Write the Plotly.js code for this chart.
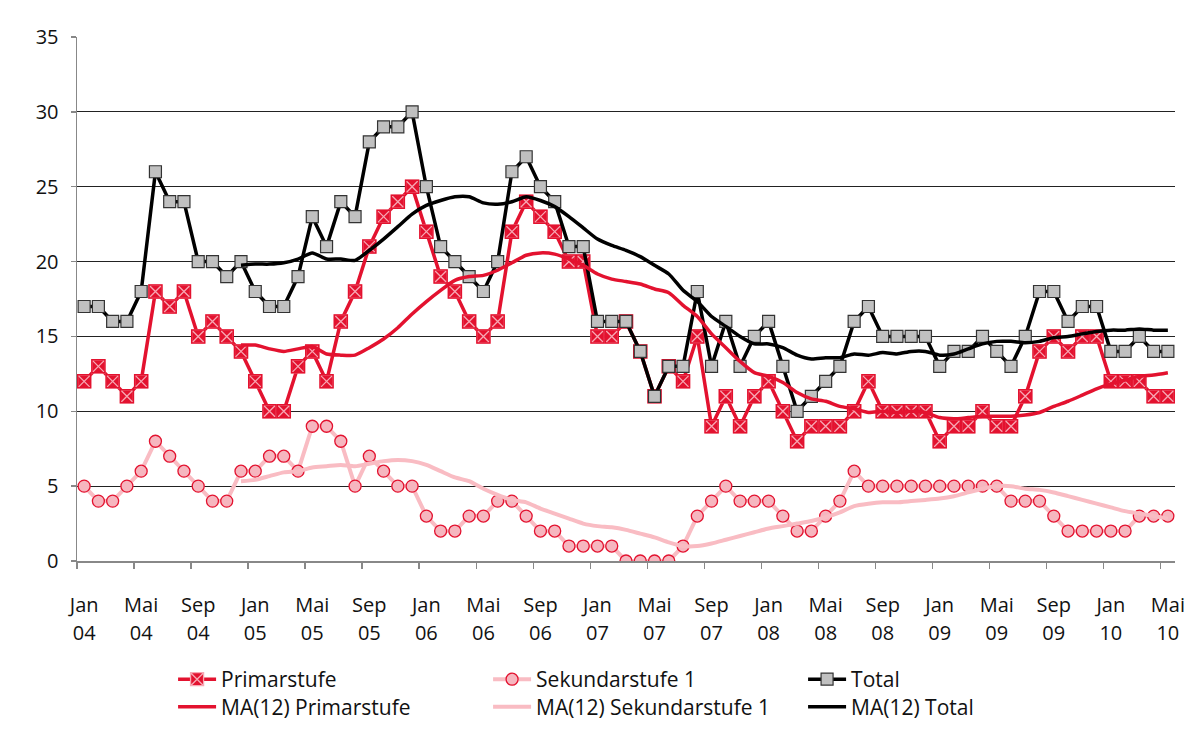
<!DOCTYPE html>
<html>
<head>
<meta charset="utf-8">
<script src="https://cdn.plot.ly/plotly-3.0.1.min.js"></script>
<style>html,body{margin:0;padding:0;background:#fff;}#chart{width:1202px;height:749px;}</style>
</head>
<body>
<div id="chart"></div>
<script>
// Monthly values Jan 2004 – Mai 2010
const monthLabels = ["Jan","Mai","Sep","Jan","Mai","Sep","Jan","Mai","Sep","Jan","Mai","Sep","Jan","Mai","Sep","Jan","Mai","Sep","Jan","Mai"];
const yearLabels  = ["04","04","04","05","05","05","06","06","06","07","07","07","08","08","08","09","09","09","10","10"];

const primarstufe = [12,13,12,11,12,18,17,18,15,16,15,14,12,10,10,13,14,12,16,18,21,23,24,25,22,19,18,16,15,16,22,24,23,22,20,20,15,15,16,14,11,13,12,15,9,11,9,11,12,10,8,9,9,9,10,12,10,10,10,10,8,9,9,10,9,9,11,14,15,14,15,15,12,12,12,11,11];
const sekundarstufe = [5,4,4,5,6,8,7,6,5,4,4,6,6,7,7,6,9,9,8,5,7,6,5,5,3,2,2,3,3,4,4,3,2,2,1,1,1,1,0,0,0,0,1,3,4,5,4,4,4,3,2,2,3,4,6,5,5,5,5,5,5,5,5,5,5,4,4,4,3,2,2,2,2,2,3,3,3];
const total = [17,17,16,16,18,26,24,24,20,20,19,20,18,17,17,19,23,21,24,23,28,29,29,30,25,21,20,19,18,20,26,27,25,24,21,21,16,16,16,14,11,13,13,18,13,16,13,15,16,13,10,11,12,13,16,17,15,15,15,15,13,14,14,15,14,13,15,18,18,16,17,17,14,14,15,14,14];

// MA(12) lines, start in month 12 (Dez 04)
const maPrimar = [14.42,14.42,14.17,14.00,14.17,14.33,13.83,13.75,13.75,14.25,14.83,15.58,16.50,17.33,18.08,18.75,19.00,19.08,19.42,19.92,20.42,20.58,20.50,20.17,19.75,19.17,18.83,18.67,18.50,18.17,17.92,17.08,16.33,15.17,14.25,13.33,12.58,12.33,11.92,11.25,10.83,10.67,10.33,10.17,9.92,10.00,9.92,10.00,9.92,9.58,9.50,9.58,9.67,9.67,9.67,9.75,9.92,10.33,10.67,11.08,11.50,11.83,12.08,12.33,12.42,12.58];
const maSekundar = [5.33,5.42,5.67,5.92,6.00,6.25,6.33,6.42,6.33,6.50,6.67,6.75,6.67,6.42,6.00,5.58,5.33,4.83,4.42,4.08,3.92,3.50,3.17,2.83,2.50,2.33,2.25,2.08,1.83,1.58,1.25,1.00,1.00,1.17,1.42,1.67,1.92,2.17,2.33,2.50,2.67,2.92,3.25,3.67,3.83,3.92,3.92,4.00,4.08,4.17,4.33,4.58,4.83,5.00,5.00,4.83,4.75,4.58,4.33,4.08,3.83,3.58,3.33,3.17,3.00,2.83];
const maTotal = [19.75,19.83,19.83,19.92,20.17,20.58,20.17,20.17,20.08,20.75,21.50,22.33,23.17,23.75,24.08,24.33,24.33,23.92,23.83,24.00,24.33,24.08,23.67,23.00,22.25,21.50,21.08,20.75,20.33,19.75,19.17,18.08,17.33,16.33,15.67,15.00,14.50,14.50,14.25,13.75,13.50,13.58,13.58,13.83,13.75,13.92,13.83,14.00,14.00,13.75,13.83,14.17,14.50,14.67,14.67,14.58,14.67,14.92,15.00,15.17,15.33,15.42,15.42,15.50,15.42,15.42];

const xs = primarstufe.map((_, i) => i);
const maStart = xs.length - maPrimar.length;
const xsMA = maPrimar.map((_, i) => i + maStart);
const tickPos = monthLabels.map((_, i) => i * 4);

const RED = '#E3122F', PINK = '#F9BCC3', CIRCLE = '#F6B6BF', GREY = '#C0C0C0';
const FONT = 'Open Sans, Noto Sans, sans-serif';

const traces = [
  {x: xs, y: primarstufe, name: 'Primarstufe', mode: 'lines+markers', legend: 'legend',
   line: {color: RED, width: 3.5},
   marker: {symbol: 'square-x', size: 13, color: RED, line: {color: '#F7A8B4', width: 1.3}}},
  {x: xs, y: primarstufe, mode: 'markers', showlegend: false, hoverinfo: 'skip',
   marker: {symbol: 'square-open', size: 13, color: RED, line: {color: RED, width: 1.5}}},
  {x: xs, y: sekundarstufe, name: 'Sekundarstufe 1', mode: 'lines+markers', legend: 'legend',
   line: {color: PINK, width: 4},
   marker: {symbol: 'circle', size: 12, color: CIRCLE, line: {color: RED, width: 1.3}}},
  {x: xs, y: total, name: 'Total', mode: 'lines+markers', legend: 'legend',
   line: {color: '#000', width: 3.5},
   marker: {symbol: 'square', size: 12, color: GREY, line: {color: '#333', width: 1.2}}},
  {x: xsMA, y: maPrimar, name: 'MA(12) Primarstufe', mode: 'lines', legend: 'legend2',
   line: {color: RED, width: 3.5, shape: 'spline', smoothing: 0.6}},
  {x: xsMA, y: maSekundar, name: 'MA(12) Sekundarstufe 1', mode: 'lines', legend: 'legend2',
   line: {color: PINK, width: 4, shape: 'spline', smoothing: 0.6}},
  {x: xsMA, y: maTotal, name: 'MA(12) Total', mode: 'lines', legend: 'legend2',
   line: {color: '#000', width: 3.5, shape: 'spline', smoothing: 0.6}}
];
// dummy trace to carry the year-line axis
traces.push({x: [0], y: [null], xaxis: 'x2', showlegend: false, hoverinfo: 'skip', mode: 'markers'});

const legendBase = {orientation: 'h', x: 0.0875, xanchor: 'left', yanchor: 'middle',
  entrywidth: 262, font: {family: FONT, size: 21, color: '#111'}, itemwidth: 38,
  traceorder: 'normal', bgcolor: 'rgba(0,0,0,0)'};

const layout = {
  width: 1202, height: 749,
  margin: {l: 77, r: 27, t: 37, b: 188, autoexpand: false},
  paper_bgcolor: '#fff', plot_bgcolor: '#fff',
  font: {family: FONT, size: 20, color: '#111'},
  showlegend: true,
  legend: Object.assign({}, legendBase, {y: -0.2262}),
  legend2: Object.assign({}, legendBase, {y: -0.2786}),
  xaxis: {range: [-0.5, 76.5], tickmode: 'array', tickvals: tickPos, ticktext: monthLabels,
          ticks: '', showgrid: false, zeroline: false, showline: true, linecolor: '#888', linewidth: 1.5,
          ticklabelstandoff: 25, tickfont: {family: FONT, size: 20, color: '#111'},
          minor: {tickmode: 'linear', tick0: -0.5, dtick: 4, ticks: 'outside', ticklen: 6, tickwidth: 1.5, tickcolor: '#888', showgrid: false}},
  xaxis2: {range: [-0.5, 76.5], overlaying: 'x', side: 'bottom', anchor: 'y', tickmode: 'array', tickvals: tickPos, ticktext: yearLabels,
           ticks: '', showgrid: false, zeroline: false, showline: false, ticklabelstandoff: 58,
           tickfont: {family: FONT, size: 20, color: '#111'}},
  yaxis: {range: [0, 35], tickmode: 'linear', tick0: 0, dtick: 5, ticks: 'outside', ticklen: 5, tickwidth: 1.5, tickcolor: '#888',
          showgrid: true, gridcolor: '#222', gridwidth: 1, zeroline: false, showline: true, linecolor: '#888', linewidth: 1.5,
          ticklabelstandoff: 8, tickfont: {family: FONT, size: 20, color: '#111'}}
};

Plotly.newPlot('chart', traces, layout, {displayModeBar: false, staticPlot: true});
</script>
</body>
</html>
